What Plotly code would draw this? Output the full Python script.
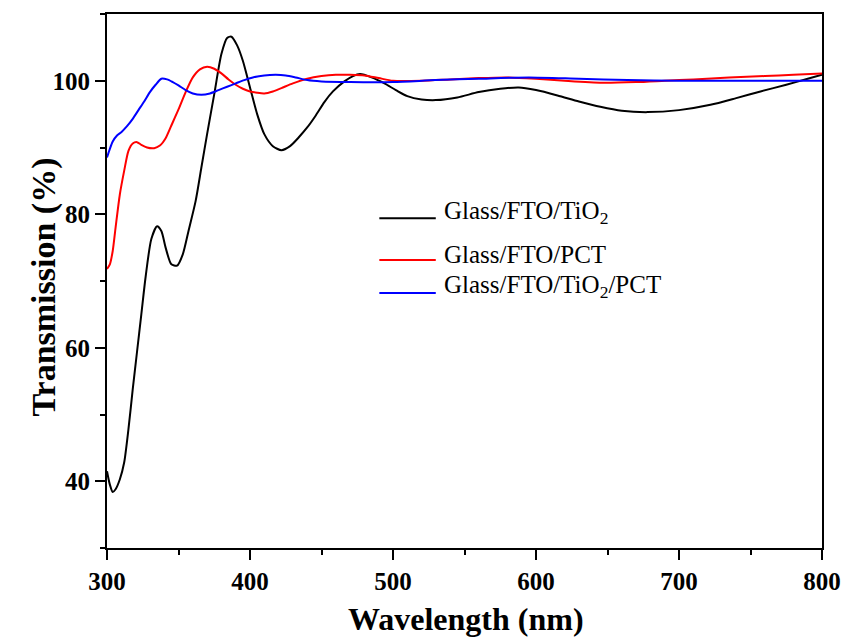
import plotly.graph_objects as go

# Transmission spectra (%), wavelength in nm
wl_tio2 = [300, 302, 304, 306, 309, 312, 315, 318, 321, 324, 327, 331, 335, 338, 341,
           345, 349, 353, 357, 362, 366, 370, 375, 380, 384, 387, 391, 395, 400, 405,
           410, 416, 422, 428, 434, 440, 446, 452, 458, 466, 472, 477, 485, 494, 502,
           510, 520, 530, 545, 560, 575, 588, 600, 615, 630, 645, 660, 678, 700, 722,
           740, 757, 775, 790, 800]
t_tio2 = [41.5, 39.5, 38.4, 38.8, 40.3, 42.8, 47.8, 53.8, 59.4, 65.0, 70.6, 76.3, 78.2,
          77.5, 75.0, 72.5, 72.3, 74.0, 77.5, 82.0, 87.0, 92.0, 98.0, 104.0, 106.4,
          106.6, 105.3, 103.0, 99.0, 95.0, 92.0, 90.2, 89.6, 90.2, 91.5, 93.0, 94.8,
          96.8, 98.4, 99.9, 100.7, 101.0, 100.5, 99.6, 98.6, 97.7, 97.2, 97.1, 97.5,
          98.3, 98.8, 99.0, 98.6, 97.8, 96.9, 96.1, 95.5, 95.3, 95.6, 96.4, 97.4,
          98.4, 99.4, 100.3, 100.9]

wl_pct = [300, 302, 304, 306, 309, 312, 315, 318, 321, 324, 328, 333, 337, 341, 345,
          350, 355, 360, 365, 370, 375, 380, 385, 390, 395, 400, 405, 410, 416, 422,
          430, 440, 450, 460, 470, 480, 490, 500, 520, 540, 560, 580, 600, 620, 646,
          670, 690, 710, 735, 760, 780, 800]
t_pct = [71.8, 72.5, 74.5, 78.0, 83.0, 86.5, 89.5, 90.6, 90.8, 90.4, 90.0, 89.9, 90.3,
         91.4, 93.3, 95.7, 98.3, 100.5, 101.7, 102.1, 101.8, 101.1, 100.2, 99.4, 98.8,
         98.4, 98.2, 98.1, 98.4, 98.9, 99.6, 100.3, 100.7, 100.9, 100.9, 100.8, 100.4,
         100.0, 100.0, 100.2, 100.4, 100.5, 100.3, 100.0, 99.7, 99.8, 100.0, 100.2,
         100.5, 100.7, 100.9, 101.1]

wl_tio2_pct = [300, 302, 304, 307, 310, 314, 318, 322, 326, 330, 334, 338, 342, 346,
               350, 355, 360, 366, 372, 378, 384, 390, 396, 402, 410, 418, 425, 432,
               440, 450, 470, 500, 530, 560, 595, 630, 664, 700, 750, 800]
t_tio2_pct = [88.5, 89.8, 90.9, 91.8, 92.3, 93.2, 94.3, 95.6, 96.9, 98.3, 99.4, 100.3,
              100.2, 99.8, 99.3, 98.6, 98.1, 97.9, 98.1, 98.6, 99.1, 99.6, 100.1, 100.5,
              100.8, 100.9, 100.8, 100.5, 100.1, 99.9, 99.8, 99.8, 100.1, 100.3, 100.5,
              100.3, 100.1, 100.0, 100.0, 100.0]

series_names = ["Glass/FTO/TiO<sub>2</sub>", "Glass/FTO/PCT", "Glass/FTO/TiO<sub>2</sub>/PCT"]
series_colors = ["#000000", "#ff0000", "#0000ff"]

x_ticks = [300, 400, 500, 600, 700, 800]
y_ticks = [40, 60, 80, 100]

SERIF = "Liberation Serif, Times New Roman, serif"

# plot area in pixels (left, right, top, bottom)
PL, PR, PT, PB = 107, 829, 12, 548


def px_x(p):
    return (p - PL) / (PR - PL)


def px_y(p):
    return 1 - (p - PT) / (PB - PT)


fig = go.Figure()
for wl, tr, name, color in zip([wl_tio2, wl_pct, wl_tio2_pct],
                               [t_tio2, t_pct, t_tio2_pct],
                               series_names, series_colors):
    fig.add_trace(go.Scatter(x=wl, y=tr, mode="lines", name=name,
                             line=dict(color=color, width=2, shape="spline", smoothing=0.7),
                             showlegend=False))

# Legend drawn as short line samples with labels inside the plot
legend_rows_y = [217, 259, 292]
for name, color, py in zip(series_names, series_colors, legend_rows_y):
    yp = px_y(py)
    fig.add_shape(type="line", xref="paper", yref="paper",
                  x0=px_x(382), x1=px_x(439), y0=yp, y1=yp,
                  line=dict(color=color, width=2))
    fig.add_annotation(xref="paper", yref="paper", x=px_x(445), y=yp,
                       text=name, showarrow=False, xanchor="left", yanchor="middle",
                       yshift=6, font=dict(family=SERIF, size=25, color="#000000"))

# Axis titles
fig.add_annotation(xref="paper", yref="paper", x=px_x(43), y=px_y(286),
                   text="Transmission (%)", textangle=-90, showarrow=False,
                   xanchor="center", yanchor="middle",
                   font=dict(family=SERIF, size=34, color="#000000", weight="bold"))
fig.add_annotation(xref="paper", yref="paper", x=px_x(470), y=px_y(619),
                   text="Wavelength (nm)", showarrow=False,
                   xanchor="center", yanchor="middle",
                   font=dict(family=SERIF, size=32, color="#000000", weight="bold"))

axis_common = dict(
    showline=True, linecolor="#000000", linewidth=2, mirror=True,
    ticks="outside", ticklen=10, tickwidth=2, tickcolor="#000000",
    showgrid=False, zeroline=False,
    tickfont=dict(family=SERIF, size=25, color="#000000", weight="bold"),
)

fig.update_layout(
    width=853, height=644,
    margin=dict(l=PL, r=853 - PR, t=PT, b=644 - PB),
    paper_bgcolor="#ffffff", plot_bgcolor="#ffffff",
    xaxis=dict(range=[300, 800], tickvals=x_ticks,
               minor=dict(dtick=50, tick0=300, ticks="outside", ticklen=5, tickwidth=2,
                          tickcolor="#000000", showgrid=False),
               **axis_common),
    yaxis=dict(range=[30, 110], tickvals=y_ticks,
               minor=dict(dtick=10, tick0=30, ticks="outside", ticklen=5, tickwidth=2,
                          tickcolor="#000000", showgrid=False),
               **axis_common),
)

fig.write_html("out.html")
